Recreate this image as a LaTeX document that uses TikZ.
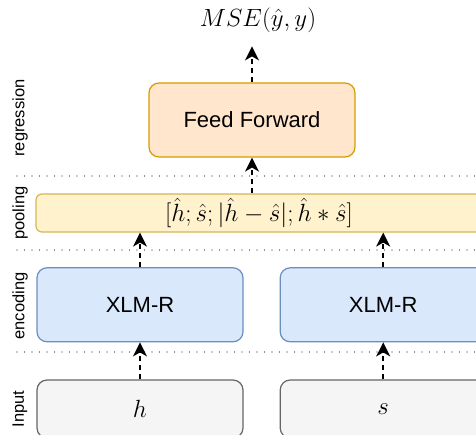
\documentclass[tikz,border=0pt]{standalone}
\usepackage{amsmath,amssymb}
\usepackage{fontspec}
\newfontfamily\helv{Liberation Sans}
\usepackage{tikz}
\usetikzlibrary{arrows.meta, positioning}
\definecolor{regFill}{HTML}{FFE6CC}
\definecolor{regDraw}{HTML}{D79B00}
\definecolor{poolFill}{HTML}{FFF2CC}
\definecolor{poolDraw}{HTML}{D6B656}
\definecolor{encFill}{HTML}{DAE8FC}
\definecolor{encDraw}{HTML}{6C8EBF}
\definecolor{inFill}{HTML}{F5F5F5}
\definecolor{inDraw}{HTML}{666666}
\tikzset{
    layerbox/.style = {rectangle, rounded corners=10pt, minimum width=206pt, minimum height=74pt, line width=1.2pt, text centered, font=\helv\fontsize{22}{26}\selectfont},
    regbox/.style = {layerbox, draw=regDraw, fill=regFill},
    encbox/.style = {layerbox, draw=encDraw, fill=encFill},
    inbox/.style = {layerbox, minimum height=58pt, draw=inDraw, fill=inFill, font=\fontsize{24}{28}\selectfont},
    poolbox/.style = {layerbox, rounded corners=6pt, minimum width=446pt, minimum height=38pt, draw=poolDraw, fill=poolFill, font=\fontsize{24}{28}\selectfont},
    tag/.style = {rotate=90, font=\helv\fontsize{16.5}{20}\selectfont},
    sep/.style = {line width=1.3pt, line cap=round, dash pattern=on 0pt off 7.5pt, black!85},
    arrow/.style = {line width=1.6pt, dash pattern=on 5pt off 4pt, -{Stealth[length=14pt, width=14pt, inset=4pt]}}
}

\begin{document}
\begin{tikzpicture}[x=1pt, y=1pt, node distance=37pt]
\useasboundingbox (0,0) rectangle (476,434);
\clip (0,0) rectangle (476,434);

% layer separators
\draw [sep] (17,258) -- (476,258);
\draw [sep] (17,184) -- (476,184);
\draw [sep] (17,82) -- (476,82);

\node (inh) [inbox] at (140,25) {$h$};
\node (ins) [inbox, right=36pt of inh] {$s$};
\node (ench) [encbox, above=of inh] {XLM-R};
\node (encs) [encbox, above=of ins] {XLM-R};
\node (pool) [poolbox] at (259,221) {$[\hat{h}; \hat{s}; |\hat{h}-\hat{s}|; \hat{h}*\hat{s}]$};
\node (ff) [regbox] at (252,314) {Feed Forward};
\coordinate [above=36pt of ff] (out);
\node (mse) [above=10pt of out, xshift=6pt, font=\fontsize{26}{30}\selectfont] {$MSE(\hat{y},y)$};

% layer names
\node (tagreg) [tag] at (20,316) {regression};
\node (tagpool) [tag] at (20,221) {pooling};
\node (tagenc) [tag] at (20,128) {encoding};
\node (tagin) [tag] at (20,25) {Input};

\draw [arrow] (inh) -- (ench);
\draw [arrow] (ins) -- (encs);
\draw [arrow] (ench) -- (ench |- pool.south);
\draw [arrow] (encs) -- (encs |- pool.south);
\draw [arrow] (ff |- pool.north) -- (ff);
\draw [arrow] (ff) -- (out);
\end{tikzpicture}
\end{document}
